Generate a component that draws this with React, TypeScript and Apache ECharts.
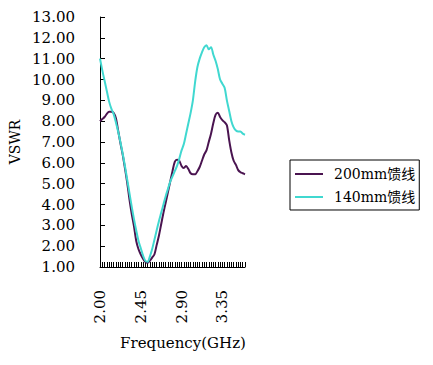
import React, { useEffect, useRef } from "react";
import * as echarts from "echarts";

const frequencies: string[] = [];
for (let i = 0; i <= 64; i++) frequencies.push((2 + i * 0.025).toFixed(3));

const series200mm = [
  8.0, 8.1, 8.2, 8.35, 8.45, 8.45, 8.4, 8.15, 7.55, 6.95,
  6.4, 5.75, 5.05, 4.25, 3.55, 2.95, 2.25, 1.85, 1.6, 1.4,
  1.25, 1.2, 1.3, 1.45, 1.6, 2.05, 2.5, 3.05, 3.6, 4.1,
  4.6, 5.1, 5.6, 6.05, 6.15, 6.1, 5.85, 5.75, 5.85, 5.7,
  5.5, 5.45, 5.45, 5.6, 5.8, 6.1, 6.4, 6.6, 7.0, 7.4,
  7.9, 8.3, 8.4, 8.2, 8.05, 7.95, 7.8, 7.1, 6.5, 6.1,
  5.9, 5.65, 5.55, 5.5, 5.45,
];

const series140mm = [
  11.0, 10.45, 9.95, 9.45, 8.95, 8.6, 8.35, 7.95, 7.5, 7.0,
  6.45, 5.85, 5.2, 4.55, 3.9, 3.3, 2.75, 2.25, 1.9, 1.55,
  1.3, 1.25, 1.5, 1.85, 2.3, 2.75, 3.2, 3.6, 4.0, 4.4,
  4.75, 5.1, 5.35, 5.6, 5.85, 6.2, 6.6, 6.9, 7.4, 7.9,
  8.4, 9.0, 9.9, 10.6, 11.0, 11.3, 11.55, 11.65, 11.45, 11.55,
  11.2, 10.9, 10.5, 10.0, 9.8, 9.6, 9.0, 8.5, 8.0, 7.7,
  7.55, 7.5, 7.5, 7.4, 7.35,
];

const seriesNames = ["200mm馈线", "140mm馈线"];
const seriesColors = ["#4a1450", "#40d8d0"];

const FONT = "'DejaVu Serif', 'Noto Sans CJK SC', serif";

export default function App() {
  const ref = useRef<HTMLDivElement>(null);
  useEffect(() => {
    document.body.style.margin = "0";
    const chart = echarts.init(ref.current!, undefined, { renderer: "svg" });
    chart.setOption({
      animation: false,
      backgroundColor: "#ffffff",
      textStyle: { fontFamily: FONT },
      grid: { left: 100, right: 188, top: 17, bottom: 98 },
      legend: {
        orient: "vertical",
        left: 290,
        top: 160,
        padding: [7, 4, 6, 5],
        itemGap: 9,
        itemWidth: 28,
        itemHeight: 2,
        icon: "rect",
        borderColor: "#000",
        borderWidth: 1,
        borderRadius: 0,
        textStyle: { fontFamily: FONT, fontSize: 14, color: "#000", padding: [0, 0, 0, 6] },
        data: seriesNames,
      },
      xAxis: {
        type: "category",
        data: frequencies,
        boundaryGap: false,
        name: "Frequency(GHz)",
        nameLocation: "middle",
        nameGap: 68,
        nameTextStyle: { fontFamily: FONT, fontSize: 15, color: "#000", padding: [0, 0, 0, 21] },
        axisLine: { lineStyle: { color: "#000", width: 1 } },
        axisTick: { show: true, inside: true, length: 5, interval: 0, lineStyle: { color: "#000" } },
        axisLabel: {
          interval: 17,
          rotate: 90,
          margin: 23,
          color: "#000",
          fontFamily: FONT,
          fontSize: 15,
          formatter: (v: string) => parseFloat(v).toFixed(2),
        },
        splitLine: { show: false },
      },
      yAxis: {
        type: "value",
        min: 1,
        max: 13,
        interval: 1,
        name: "VSWR",
        nameLocation: "middle",
        nameGap: 78,
        nameRotate: 90,
        nameTextStyle: { fontFamily: FONT, fontSize: 14, color: "#000" },
        axisLine: { show: true, lineStyle: { color: "#000", width: 1 } },
        axisTick: { show: true, inside: true, length: 5, lineStyle: { color: "#000" } },
        axisLabel: {
          margin: 25,
          color: "#000",
          fontFamily: FONT,
          fontSize: 15,
          formatter: (v: number) => v.toFixed(2),
        },
        splitLine: { show: false },
      },
      series: [
        {
          name: seriesNames[0],
          type: "line",
          data: series200mm,
          symbol: "none",
          smooth: 0.3,
          lineStyle: { color: seriesColors[0], width: 2 },
          itemStyle: { color: seriesColors[0] },
        },
        {
          name: seriesNames[1],
          type: "line",
          data: series140mm,
          symbol: "none",
          smooth: 0.3,
          lineStyle: { color: seriesColors[1], width: 2 },
          itemStyle: { color: seriesColors[1] },
        },
      ],
    });
    return () => chart.dispose();
  }, []);
  return <div ref={ref} style={{ width: 433, height: 365 }} />;
}
